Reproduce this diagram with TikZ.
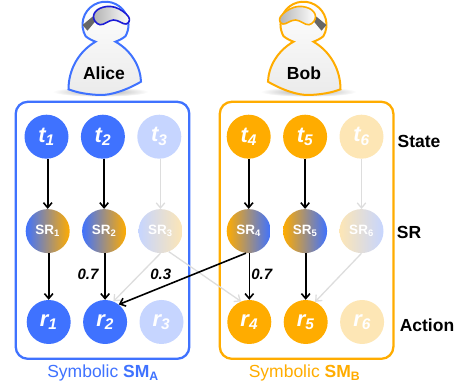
\documentclass[tikz,border=0pt]{standalone}
\usepackage{fontspec}
\setmainfont{Liberation Sans}
\usetikzlibrary{arrows.meta,positioning,shapes}
\definecolor{aliceblue}{HTML}{3F72FF}
\definecolor{alicepale}{HTML}{C6D5FF}
\definecolor{bobgold}{HTML}{FFAC00}
\definecolor{bobpale}{HTML}{FDE6B5}
\definecolor{gogglerim}{HTML}{1C1CD6}
\definecolor{fadedline}{HTML}{DDDDDD}
\tikzset{
    bubble/.style={circle,inner sep=0pt,minimum size=44pt,align=center,text=white},
    statenode/.style={bubble,font=\fontsize{22}{22}\selectfont\bfseries\itshape},
    srnode/.style={bubble,font=\fontsize{13.5}{14}\selectfont\bfseries},
    paths/.style={-{Straight Barb[length=5pt,width=8.5pt]},line width=1.6pt,black},
    fadedpaths/.style={paths,line width=1.3pt,fadedline},
    groupbox/.style={draw,rounded corners=12pt,line width=2.3pt,minimum width=173.6pt,minimum height=257pt},
    rowlabel/.style={font=\fontsize{17.5}{18}\selectfont\bfseries},
    weight/.style={font=\fontsize{15}{15}\selectfont\bfseries\itshape},
    grouplabel/.style={font=\fontsize{17.5}{18}\selectfont},
    pics/avatar/.style 2 args={code={
        \shade [inner color=black!35,outer color=white] (-5,-67) ellipse [x radius=48,y radius=5];
        \draw [#1,line width=2pt,top color=white,bottom color=black!8]
            (-10,-17) .. controls (-13,-16) and (-17,-14) .. (-19.9,-11.5)
            arc [start angle=210,end angle=-30,radius=23]
            .. controls (17,-14) and (13,-16) .. (10,-17)
            .. controls (26,-26) and (35,-42) .. (35.5,-57)
            .. controls (20,-66) and (5,-70.5) .. (-5,-70.3)
            .. controls (-17,-70) and (-28,-68) .. (-37,-64.6)
            .. controls (-37,-45) and (-27,-27) .. (-10,-17) -- cycle;
        \fill [black!60] (-23,-0.3) -- (-18,-6) -- (-10.5,3) -- (-13,8) -- cycle;
        \draw [#2,line width=1.6pt,left color=black!30,right color=white]
            plot [smooth cycle,tension=.7] coordinates {(-12,8) (-5.5,16.4) (9.5,17.4) (23,8) (20.5,.7) (8,4.7) (-5.5,0)};
    }}
}
\begin{document}
\begin{tikzpicture}[x=1pt,y=1pt]
\useasboundingbox (0,0) rectangle (467,391);
\pic at (105.5,366.3) {avatar={aliceblue}{gogglerim}};
\pic [xscale=-1] at (303.5,366.3) {avatar={bobgold}{bobgold}};
\node [rowlabel] (Alice) at (104,318) {Alice};
\node [rowlabel] (Bob) at (304,318) {Bob};
\node [groupbox,draw=aliceblue] (SMA) at (102.5,160.7) {};
\node [groupbox,draw=bobgold] (SMB) at (306.6,160.7) {};
\node [statenode,fill=aliceblue] (t1) at (46.5,254.3) {t\textsubscript{1}};
\node [statenode,fill=aliceblue] (t2) [right=12pt of t1] {t\textsubscript{2}};
\node [statenode,fill=alicepale] (t3) [right=12pt of t2] {t\textsubscript{3}};
\node [statenode,fill=bobgold] (t4) at (248.7,254.3) {t\textsubscript{4}};
\node [statenode,fill=bobgold] (t5) [right=12pt of t4] {t\textsubscript{5}};
\node [statenode,fill=bobpale] (t6) [right=12pt of t5] {t\textsubscript{6}};
\node [srnode,left color=aliceblue,right color=bobgold] (SR1) [below=50pt of t1,xshift=1.2pt] {SR\textsubscript{1}};
\node [srnode,left color=aliceblue,right color=bobgold] (SR2) [right=12pt of SR1] {SR\textsubscript{2}};
\node [srnode,left color=alicepale,right color=bobpale] (SR3) [right=12pt of SR2] {SR\textsubscript{3}};
\node [srnode,left color=bobgold,right color=aliceblue] (SR4) [below=50pt of t4] {SR\textsubscript{4}};
\node [srnode,left color=bobgold,right color=aliceblue] (SR5) [right=12pt of SR4] {SR\textsubscript{5}};
\node [srnode,left color=bobpale,right color=alicepale] (SR6) [right=12pt of SR5] {SR\textsubscript{6}};
\node [statenode,fill=aliceblue] (r1) [below=46.5pt of SR1,xshift=1pt] {r\textsubscript{1}};
\node [statenode,fill=aliceblue] (r2) [right=12pt of r1] {r\textsubscript{2}};
\node [statenode,fill=alicepale] (r3) [right=12pt of r2] {r\textsubscript{3}};
\node [statenode,fill=bobgold] (r4) [below=46.5pt of SR4,xshift=.6pt] {r\textsubscript{4}};
\node [statenode,fill=bobgold] (r5) [right=12pt of r4] {r\textsubscript{5}};
\node [statenode,fill=bobpale] (r6) [right=12pt of r5] {r\textsubscript{6}};
\node [rowlabel] (State) at (419,249.3) {State};
\node [rowlabel] (SR) at (409,158.3) {SR};
\node [rowlabel] (Action) at (427,66) {Action};
\node [grouplabel,text=aliceblue] (labelA) at (103,18) {Symbolic \textbf{SM\textsubscript{A}}};
\node [grouplabel,text=bobgold] (labelB) at (304.5,18) {Symbolic \textbf{SM\textsubscript{B}}};
\foreach \first/\second in {t3/SR3, t6/SR6}
\draw [fadedpaths] (\first.south -| \second.north) to (\second.north);
\draw [fadedpaths] (SR3.south) to (r2.68);
\draw [fadedpaths] (SR3.-68) to (r4.112);
\draw [fadedpaths] (SR6.south) to (r5.65);
\foreach \first/\second in {t1/SR1, t2/SR2, t4/SR4, t5/SR5, SR1/r1, SR2/r2, SR4/r4, SR5/r5}
\draw [paths] (\first.south -| \second.north) to (\second.north);
\draw [paths] (SR4.-97) to (r2.52);
\node [weight] (w1) at (88,117) {0.7};
\node [weight] (w2) at (160.7,117) {0.3};
\node [weight] (w3) at (261.7,117) {0.7};
\end{tikzpicture}
\end{document}
